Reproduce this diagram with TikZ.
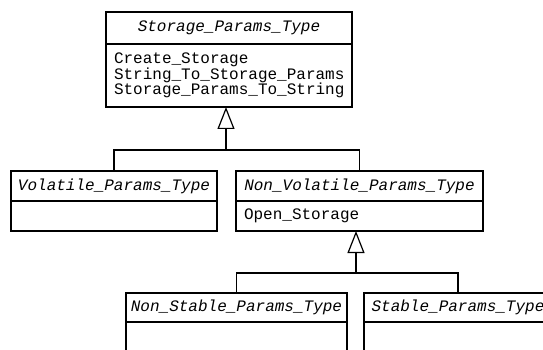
\documentclass[tikz,border=0pt]{standalone}
\usepackage{fontspec}
\setmonofont{Liberation Mono}
\usepackage{tikz}
\usetikzlibrary{arrows.meta, positioning}
\tikzset{
        classhead/.style={rectangle, draw, line width=1.2pt, inner sep=0pt, outer sep=0pt, align=center, font=\ttfamily\itshape\fontsize{16pt}{16pt}\selectfont},
        classbody/.style={rectangle, draw, line width=1.2pt, inner xsep=8pt, inner ysep=0pt, outer sep=0pt, align=left, font=\ttfamily\fontsize{16pt}{15.5pt}\selectfont},
        link/.style={line width=1.2pt},
        inherit/.style={line width=1.2pt, -{Triangle[open, length=22pt, width=17pt, line width=1.2pt]}},
    }
\begin{document}
\begin{tikzpicture}[x=1pt, y=-1pt]
        \path[use as bounding box, clip] (0,0) rectangle (543,350);

        % Root class
        \node[classhead, anchor=north west, minimum width=246pt, minimum height=32pt] (storehd) at (106,12) {Storage\_Params\_Type};
        \node[classbody, anchor=north, text width=230pt, minimum height=63pt, below=0pt of storehd] (storebd) {Create\_Storage\\String\_To\_Storage\_Params\\Storage\_Params\_To\_String};

        % First level
        \node[classhead, anchor=north west, minimum width=206pt, minimum height=30pt] (volhd) at (11,171) {Volatile\_Params\_Type};
        \node[classbody, anchor=north, text width=190pt, minimum height=30pt, below=0pt of volhd] (volbd) {};
        \node[classhead, anchor=north west, minimum width=247pt, minimum height=30pt] (nvolhd) at (236,171) {Non\_Volatile\_Params\_Type};
        \node[classbody, anchor=north, text width=231pt, minimum height=30pt, below=0pt of nvolhd] (nvolbd) {Open\_Storage};

        % Second level
        \node[classhead, anchor=north west, minimum width=221pt, minimum height=29pt] (nstabhd) at (126,293) {Non\_Stable\_Params\_Type};
        \node[classbody, anchor=north, text width=205pt, minimum height=60pt, below=0pt of nstabhd] (nstabbd) {};
        \node[classhead, anchor=north west, minimum width=188pt, minimum height=29pt] (stabhd) at (364,293) {Stable\_Params\_Type};
        \node[classbody, anchor=north, text width=172pt, minimum height=60pt, below=0pt of stabhd] (stabbd) {};

        % Generalization joins
        \coordinate (topjoin) at (226,150);
        \coordinate (nvoljoin) at (356,273);

        \draw[link] (volhd.north) |- (topjoin) -| (nvolhd.north);
        \draw[inherit] (topjoin) -- (topjoin |- storebd.south);
        \draw[link] (nstabhd.north) |- (nvoljoin) -| (stabhd.north);
        \draw[inherit] (nvoljoin) -- (nvoljoin |- nvolbd.south);
    \end{tikzpicture}
\end{document}
